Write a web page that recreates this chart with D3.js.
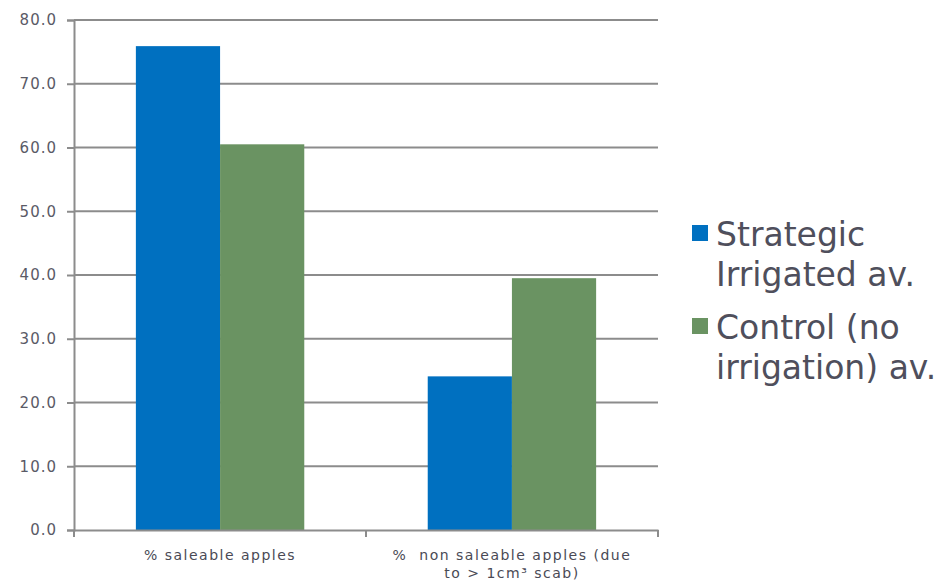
<!DOCTYPE html>
<html>
<head>
<meta charset="utf-8">
<script src="https://cdn.jsdelivr.net/npm/d3@7"></script>
<title>Saleable apples</title>
<style>
  body { margin: 0; background: #fff; }
  text { font-family: "DejaVu Sans", Verdana, sans-serif; }
</style>
</head>
<body>
<div id="chart"></div>
<script>
var categories = ["% saleable apples", "%  non saleable apples (due to > 1cm³ scab)"];
var categoryLines = [["% saleable apples"], ["%  non saleable apples (due", "to > 1cm³ scab)"]];
var seriesNames = ["Strategic Irrigated av.", "Control (no irrigation) av."];
var legendLines = [["Strategic", "Irrigated av."], ["Control (no", "irrigation) av."]];
var strategic = [75.9, 24.1];
var control = [60.5, 39.5];
var yTicks = [0, 10, 20, 30, 40, 50, 60, 70, 80];
var colors = ["#0070c0", "#6a9362"];

var w = 947, h = 587;
var plotL = 74, plotR = 658, plotT = 20, plotB = 530;

var svg = d3.select("#chart").append("svg")
    .attr("width", w).attr("height", h);

var x = d3.scaleBand().domain(categories).range([plotL, plotR])
    .paddingInner(0.423).paddingOuter(0.212);
var xs = d3.scaleBand().domain(seriesNames).range([0, x.bandwidth()]);
var y = d3.scaleLinear().domain([0, 80]).range([plotB, plotT]);

// gridlines
svg.append("g")
  .selectAll("line").data(yTicks.slice(1)).enter().append("line")
    .attr("x1", plotL).attr("x2", plotR)
    .attr("y1", function(d) { return y(d); })
    .attr("y2", function(d) { return y(d); })
    .attr("stroke", "#8c8c8c").attr("stroke-width", 2);

// bars
var data = [];
categories.forEach(function(c, i) {
  data.push({cat: c, s: seriesNames[0], v: strategic[i], col: colors[0]});
  data.push({cat: c, s: seriesNames[1], v: control[i], col: colors[1]});
});
svg.append("g").selectAll("rect").data(data).enter().append("rect")
    .attr("x", function(d) { return x(d.cat) + xs(d.s); })
    .attr("y", function(d) { return y(d.v); })
    .attr("width", xs.bandwidth())
    .attr("height", function(d) { return y(0) - y(d.v); })
    .attr("fill", function(d) { return d.col; });

// y axis
var yAxis = svg.append("g")
    .attr("transform", "translate(" + plotL + ",0)")
    .call(d3.axisLeft(y).tickValues(yTicks).tickFormat(d3.format(".1f")).tickSize(7).tickPadding(10));
yAxis.select(".domain").attr("stroke", "#8c8c8c").attr("stroke-width", 2);
yAxis.selectAll(".tick line").attr("stroke", "#8c8c8c").attr("stroke-width", 2);
yAxis.selectAll(".tick text")
    .attr("fill", "#5a5a66").style("font-size", "15px").style("letter-spacing", "1px");

// x axis
var xAxis = svg.append("g")
    .attr("transform", "translate(0," + plotB + ")")
    .call(d3.axisBottom(x).tickSize(0).tickFormat(""));
xAxis.select(".domain").attr("stroke", "#8c8c8c").attr("stroke-width", 2);
svg.append("g").selectAll("line").data([plotL, (plotL + plotR) / 2, plotR]).enter().append("line")
    .attr("x1", function(d) { return d; }).attr("x2", function(d) { return d; })
    .attr("y1", plotB).attr("y2", plotB + 7)
    .attr("stroke", "#8c8c8c").attr("stroke-width", 2);

categories.forEach(function(c, i) {
  var t = svg.append("text")
      .attr("x", x(c) + x.bandwidth() / 2)
      .attr("y", 560)
      .attr("text-anchor", "middle")
      .attr("fill", "#4a4a55")
      .style("white-space", "pre")
      .style("font-size", "14px").style("letter-spacing", "1.5px");
  categoryLines[i].forEach(function(line, j) {
    t.append("tspan").attr("x", x(c) + x.bandwidth() / 2).attr("dy", j ? 18 : 0).text(line);
  });
});

// legend
var legend = svg.append("g").attr("transform", "translate(692,225)");
seriesNames.forEach(function(s, i) {
  var g = legend.append("g").attr("transform", "translate(0," + (i * 93) + ")");
  g.append("rect").attr("width", 16).attr("height", 16).attr("fill", colors[i]);
  var t = g.append("text").attr("x", 24).attr("y", 21)
      .attr("fill", "#4f4f5c").style("font-size", "33px");
  legendLines[i].forEach(function(line, j) {
    t.append("tspan").attr("x", 24).attr("dy", j ? 40 : 0).text(line);
  });
});
</script>
</body>
</html>
